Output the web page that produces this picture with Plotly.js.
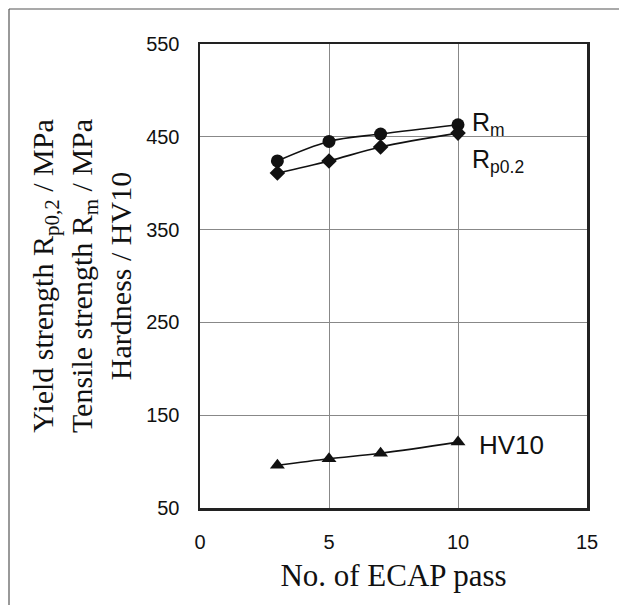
<!DOCTYPE html>
<html>
<head>
<meta charset="utf-8">
<script src="https://cdn.plot.ly/plotly-3.0.1.min.js"></script>
<style>html,body{margin:0;padding:0;background:#fff;}#chart{width:619px;height:605px;}</style>
</head>
<body>
<div id="chart"></div>
<script>
const passes = [3, 5, 7, 10];
const rm = [424, 445, 453, 463];
const rp02 = [411, 424, 439, 454];
const hv10 = [96, 103, 109, 121];
const xTicks = [0, 5, 10, 15];
const yTicks = [50, 150, 250, 350, 450, 550];

function series(y, symbol, size) {
  return {
    x: passes, y: y, type: 'scatter', mode: 'lines+markers',
    line: {color: '#111', width: 1.6, shape: 'spline', smoothing: 1},
    marker: {symbol: symbol, size: size, color: '#111'},
    showlegend: false, cliponaxis: false
  };
}
const data = [series(rm, 'circle', 13), series(rp02, 'diamond', 12), series(hv10, 'triangle-up', 13)];

const layout = {
  width: 619, height: 605,
  margin: {l: 200, r: 32, t: 44, b: 97},
  paper_bgcolor: '#fff', plot_bgcolor: '#fff',
  font: {family: 'Liberation Sans, Arial, sans-serif', color: '#111'},
  xaxis: {
    range: [0, 15], tickvals: xTicks, ticks: '', showgrid: true, gridcolor: '#888', gridwidth: 1,
    zeroline: false, showline: true, mirror: true, linecolor: '#222', linewidth: 2.5,
    tickfont: {size: 20, family: 'Liberation Sans, Arial, sans-serif'}, ticklabelstandoff: 14,
    title: {text: 'No. of ECAP pass', font: {family: 'Liberation Serif, Times New Roman, serif', size: 31}, standoff: 13}
  },
  yaxis: {
    range: [50, 550], tickvals: yTicks, ticks: '', showgrid: true, gridcolor: '#888', gridwidth: 1,
    zeroline: false, showline: true, mirror: true, linecolor: '#222', linewidth: 2.5,
    tickfont: {size: 20, family: 'Liberation Sans, Arial, sans-serif'}, ticklabelstandoff: 14,
    title: {text: 'Yield strength R<sub>p0,2</sub> / MPa<br>Tensile strength R<sub>m</sub> / MPa<br>Hardness / HV10',
            font: {family: 'Liberation Serif, Times New Roman, serif', size: 30}, standoff: 6}
  },
  annotations: [
    {x: 10.54, y: 464, xref: 'x', yref: 'y', text: 'R<sub>m</sub>', showarrow: false, xanchor: 'left', yanchor: 'middle', xshift: -2, font: {size: 25}},
    {x: 10.54, y: 424, xref: 'x', yref: 'y', text: 'R<sub>p0.2</sub>', showarrow: false, xanchor: 'left', yanchor: 'middle', xshift: -2, font: {size: 25}},
    {x: 10.85, y: 118, xref: 'x', yref: 'y', text: 'HV10', showarrow: false, xanchor: 'left', yanchor: 'middle', xshift: -3, font: {size: 26}}
  ],
  shapes: [
    {type: 'line', xref: 'paper', yref: 'paper', x0: (9 - 200) / 387, x1: (619 - 200) / 387 + 0.01, y0: (508 - 9) / 464, y1: (508 - 9) / 464, line: {color: '#555', width: 1.2}},
    {type: 'line', xref: 'paper', yref: 'paper', x0: (9 - 200) / 387, x1: (9 - 200) / 387, y0: (508 - 9) / 464, y1: (508 - 606) / 464, line: {color: '#555', width: 1.2}}
  ]
};
Plotly.newPlot('chart', data, layout, {displayModeBar: false, staticPlot: true});
</script>
</body>
</html>
